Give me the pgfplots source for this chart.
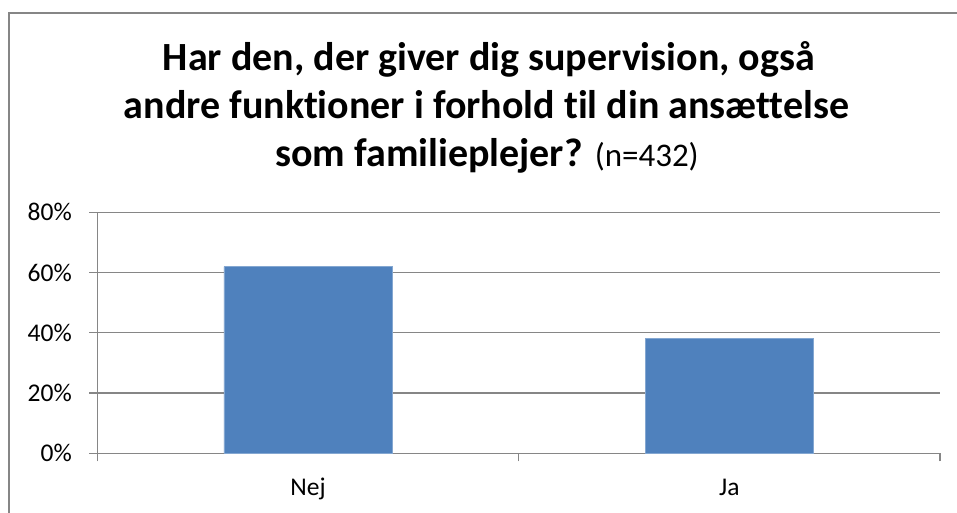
\documentclass[border=0pt]{standalone}
\usepackage{pgfplots}
\pgfplotsset{compat=1.18}
\usepackage{fontspec}
\setmainfont{Carlito}[Ligatures=NoCommon]
\definecolor{barblue}{HTML}{4F81BD}
\definecolor{gridgray}{HTML}{868686}
\begin{document}
\begin{tikzpicture}[x=1pt,y=1pt]
\useasboundingbox (0,0) rectangle (957,513);
\draw[gridgray,line width=1.3pt] (9,-10) -- (9,500) -- (970,500);
\node[anchor=base,font=\fontsize{40}{48}\selectfont\bfseries] at (489,442) {Har den, der giver dig supervision, også};
\node[anchor=base,font=\fontsize{40}{48}\selectfont\bfseries] at (486.5,394) {andre funktioner i forhold til din ansættelse};
\node[anchor=base,font=\fontsize{40}{48}\selectfont] at (487,346) {\textbf{som familieplejer?} {\fontsize{33}{40}\selectfont(n=432)}};
\begin{axis}[
  at={(97.3pt,59.7pt)}, anchor=south west,
  scale only axis, width=842.7pt, height=241pt,
  xmin=-0.5, xmax=1.5, ymin=0, ymax=80,
  ytick={0,20,40,60,80},
  yticklabels={0\%,20\%,40\%,60\%,80\%},
  xtick={0,1}, xticklabels={Nej,Ja},
  major x tick style={draw=none},
  minor xtick={-0.5,0.5,1.5},
  tick align=outside,
  major tick length=8pt, minor tick length=8pt,
  tick style={gridgray,line width=1.3pt},
  axis lines*=left,
  axis line style={gridgray,line width=1.3pt},
  ymajorgrids, grid style={gridgray,line width=1.3pt},
  /pgf/number format/assume math mode=true,
  ticklabel style={font=\fontsize{25.5}{30}\selectfont},
  yticklabel style={xshift=-14pt},
  xticklabel style={yshift=-14pt, text height=17pt, text depth=6pt},
  ybar, bar width=168pt,
  clip=false,
]
\addplot[fill=barblue, draw=barblue!70!white, line width=0.8pt] coordinates {(0,62) (1,38)};
\end{axis}
\end{tikzpicture}
\end{document}
